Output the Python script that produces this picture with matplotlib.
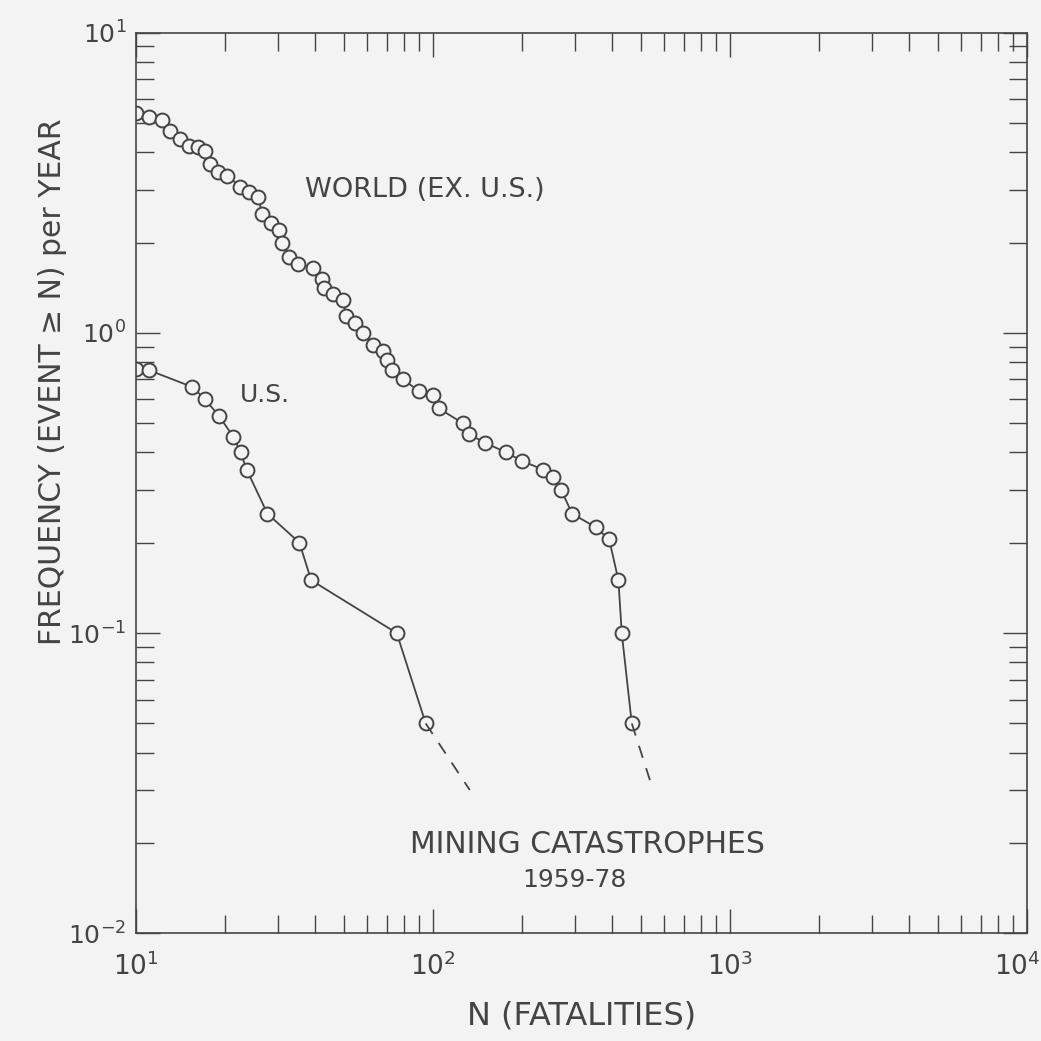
import numpy as np
import matplotlib
matplotlib.use("Agg")
import matplotlib.pyplot as plt
from matplotlib.ticker import FixedLocator, LogLocator, NullFormatter
from matplotlib.transforms import ScaledTranslation

# cumulative frequency of mining catastrophes, 1959-78
world_n = [10.0, 11.1, 12.2, 13.0, 14.1, 15.1, 16.2, 17.1, 17.8, 18.9,
           20.3, 22.4, 24.0, 25.8, 26.6, 28.4, 30.3, 31.1, 32.7, 35.2,
           39.5, 42.4, 42.8, 46.1, 49.9, 50.8, 54.6, 58.3, 63.0, 67.7,
           70.2, 73.0, 79.4, 89.5, 100.0, 104.8, 126.0, 132.0, 150.0, 176.0,
           199.0, 235.0, 254.0, 270.0, 294.0, 353.0, 392.0, 421.0, 432.0, 467.0]
world_freq = [5.39, 5.25, 5.12, 4.72, 4.43, 4.20, 4.15, 4.05, 3.65, 3.43,
              3.34, 3.07, 2.94, 2.83, 2.49, 2.33, 2.20, 2.00, 1.79, 1.70,
              1.64, 1.51, 1.41, 1.35, 1.29, 1.14, 1.08, 1.00, 0.91, 0.87,
              0.81, 0.75, 0.70, 0.64, 0.62, 0.56, 0.50, 0.46, 0.43, 0.40,
              0.375, 0.35, 0.33, 0.30, 0.25, 0.225, 0.205, 0.15, 0.10, 0.05]
world_tail_n = [467.0, 545.0]
world_tail_freq = [0.05, 0.031]

us_n = [10.0, 11.1, 15.5, 17.1, 19.0, 21.3, 22.5, 23.6, 27.7, 35.5,
        38.9, 75.5, 94.5]
us_freq = [0.76, 0.75, 0.66, 0.60, 0.53, 0.45, 0.40, 0.35, 0.25, 0.20,
           0.15, 0.10, 0.05]
us_tail_n = [94.5, 133.0]
us_tail_freq = [0.05, 0.030]

x_decades = [10, 100, 1000, 10000]
y_decades = [0.01, 0.1, 1, 10]

ink = "#444444"
paper = "#f3f3f3"

plt.rcParams["font.family"] = ["DejaVu Sans"]
plt.rcParams["mathtext.fontset"] = "dejavusans"

fig = plt.figure(figsize=(10.41, 10.41), dpi=100, facecolor=paper)
ax = fig.add_axes([0.1306, 0.1035, 0.856, 0.8651], facecolor=paper)

ax.set_xscale("log")
ax.set_yscale("log")
ax.set_xlim(10, 1e4)
ax.set_ylim(1e-2, 1e1)

marker_style = dict(marker="o", markersize=10, markerfacecolor=paper,
                    markeredgecolor=ink, markeredgewidth=1.4)

ax.plot(world_n, world_freq, color=ink, lw=1.3, **marker_style)
ax.plot(world_tail_n, world_tail_freq, color=ink, lw=1.3, dashes=(7, 6))
ax.plot(us_n, us_freq, color=ink, lw=1.3, **marker_style)
ax.plot(us_tail_n, us_tail_freq, color=ink, lw=1.3, dashes=(7, 6))

# decade ticks only, with 2..9 minors; everything points inward
ax.xaxis.set_major_locator(FixedLocator(x_decades))
ax.yaxis.set_major_locator(FixedLocator(y_decades))
for axis in (ax.xaxis, ax.yaxis):
    axis.set_minor_locator(LogLocator(base=10, subs=np.arange(2, 10),
                                      numticks=20))
    axis.set_minor_formatter(NullFormatter())
ax.tick_params(which="both", direction="in", top=True, right=True,
               color=ink, width=1.0, labelcolor=ink)
ax.tick_params(which="major", length=17)
ax.tick_params(which="minor", length=13)
ax.tick_params(axis="x", which="major", pad=14, labelsize=19)
ax.tick_params(axis="y", which="major", pad=7, labelsize=18)
for spine in ax.spines.values():
    spine.set_color(ink)
    spine.set_linewidth(1.2)

ax.set_xlabel("N (FATALITIES)", fontsize=23, color=ink, labelpad=14)
fig.text(0.050, 0.633, "FREQUENCY (EVENT \u2265 N) per YEAR", rotation=90,
         ha="center", va="center", fontsize=21.5, color=ink)

ax.text(37.1, 2.99, "WORLD (EX. U.S.)", ha="left", va="center",
        fontsize=19.5, color=ink)
ax.text(22.4, 0.62, "U.S.", ha="left", va="center", fontsize=18, color=ink)
ax.text(83.6, 0.0197, "MINING CATASTROPHES", ha="left", va="center",
        fontsize=21.5, color=ink)
ax.text(199, 0.0151, "1959-78", ha="left", va="center", fontsize=18,
        color=ink)

# keep the 10^4 label inside the figure edge
last = ax.xaxis.get_major_ticks()[-1].label1
last.set_transform(last.get_transform()
                   + ScaledTranslation(-0.1, 0, fig.dpi_scale_trans))

fig.savefig("out.png", dpi=100, facecolor=paper)
